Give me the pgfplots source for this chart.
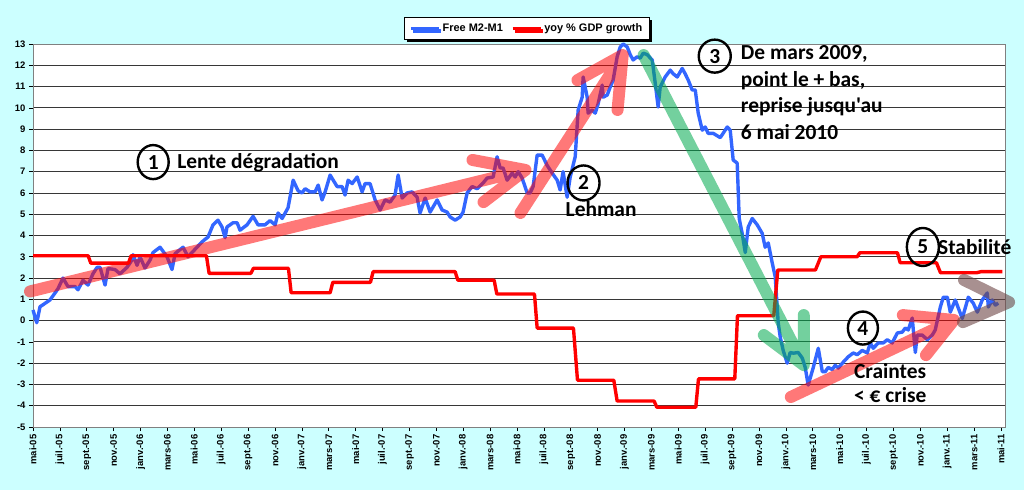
\documentclass[border=0pt]{standalone}
\usepackage{fontspec}
\setmainfont{Liberation Sans}
\newfontfamily\calib{Carlito}
\usepackage{pgfplots}
\usepackage{pgfplotstable}
\pgfplotsset{compat=1.18}
\usetikzlibrary{shadows}
\definecolor{bgcyan}{RGB}{204,255,255}
\definecolor{mblue}{RGB}{51,102,255}
\definecolor{gridc}{RGB}{55,55,55}
\definecolor{arrred}{RGB}{255,0,0}
\definecolor{arrgreen}{RGB}{0,170,80}
\definecolor{arrgray}{RGB}{110,70,70}

\pgfplotstableread{
m v
0 0.5
0.28 -0.1
0.52 0.65
1.26 0.97
1.64 1.3
1.86 1.5
2.23 2.0
2.60 1.6
3.13 1.6
3.35 1.45
3.72 1.9
4.09 1.67
4.46 2.2
4.76 2.5
4.99 2.5
5.36 1.67
5.58 2.45
6.10 2.4
6.47 2.2
6.99 2.5
7.37 2.85
7.44 3.1
7.74 2.6
7.96 3.0
8.33 2.47
8.71 2.85
8.93 3.2
9.45 3.45
9.97 3.0
10.34 2.4
10.57 3.15
11.16 3.45
11.53 3.0
12.20 3.45
12.57 3.7
13.02 3.93
13.39 4.5
13.76 4.72
14.06 4.4
14.29 3.9
14.43 4.4
14.88 4.6
15.18 4.6
15.40 4.25
15.92 4.5
16.37 4.9
16.74 4.5
17.26 4.5
17.63 4.7
18.01 4.5
18.23 5.06
18.53 4.8
18.97 5.3
19.35 6.6
19.72 6.1
20.01 6.0
20.24 6.2
20.61 6.05
20.98 6.05
21.21 6.37
21.50 5.67
21.73 6.05
22.10 6.84
22.62 6.3
22.99 6.3
23.21 5.9
23.44 6.6
23.74 6.44
24.11 6.75
24.48 6.05
24.70 6.44
25.07 6.44
25.45 5.67
25.82 5.2
26.19 5.67
26.56 5.57
26.93 5.9
27.16 6.84
27.46 5.76
27.83 6.0
28.20 6.05
28.57 5.8
28.79 5.06
29.17 5.76
29.54 5.1
30.06 5.67
30.43 5.2
30.80 5.1
31.03 4.87
31.40 4.72
31.77 4.87
31.99 5.1
32.29 6.0
32.66 6.3
33.04 6.2
33.48 6.47
33.78 6.7
34.23 6.75
34.52 7.7
34.75 7.17
34.97 7.17
35.27 6.6
35.64 6.93
35.86 6.75
36.09 7.0
36.38 6.7
36.76 6.0
36.98 6.0
37.20 6.3
37.50 7.78
37.87 7.78
38.24 7.3
38.62 6.93
38.99 6.6
39.21 6.14
39.43 7.0
39.73 5.8
39.96 6.75
40.33 7.7
40.55 9.9
40.85 10.5
40.92 11.45
41.22 10.5
41.29 9.75
41.59 9.9
41.82 9.75
42.04 10.2
42.34 11.07
42.41 10.5
42.71 10.6
42.93 10.97
43.15 11.3
43.45 12.4
43.68 12.86
43.90 13.0
44.20 12.86
44.42 12.5
44.64 12.25
44.94 12.4
45.16 12.33
45.39 12.57
45.68 12.5
46.06 12.25
46.28 11.17
46.50 10.04
46.65 10.97
47.02 11.45
47.40 11.77
47.62 11.6
47.92 11.45
48.29 11.85
48.51 11.6
48.74 11.3
49.03 10.84
49.26 10.84
49.48 9.75
49.78 8.95
50.00 9.1
50.22 8.8
50.60 8.8
51.12 8.6
51.64 9.1
51.86 8.95
52.08 7.55
52.38 7.4
52.53 4.8
52.75 4.1
52.98 3.2
53.20 4.4
53.50 4.8
53.87 4.5
54.24 4.1
54.46 3.45
54.69 3.65
54.99 2.7
55.21 2.05
55.43 -0.1
55.58 -0.77
55.80 -1.4
56.10 -2.0
56.32 -1.5
56.55 -1.53
56.92 -1.5
57.22 -1.76
57.44 -2.2
57.66 -3.03
58.04 -2.2
58.41 -1.3
58.71 -2.4
58.93 -2.4
59.15 -2.2
59.45 -2.3
59.67 -2.1
59.90 -2.23
60.27 -1.95
60.64 -1.7
61.01 -1.52
61.31 -1.6
61.68 -1.4
62.05 -1.52
62.28 -1.05
62.50 -1.3
62.87 -1.05
63.24 -1.05
63.54 -0.9
63.91 -1.05
64.29 -0.58
64.66 -0.54
64.88 -0.35
65.10 -0.44
65.40 0.12
65.63 -1.5
65.77 -0.68
66.15 -0.68
66.52 -0.9
66.89 -0.68
67.11 -0.44
67.49 0.64
67.71 1.1
68.01 1.1
68.23 0.4
68.60 0.97
69.12 0.1
69.57 1.1
69.94 0.82
70.24 0.4
70.61 0.97
70.98 1.3
71.06 0.64
71.35 0.97
71.58 0.73
71.80 0.82
}\bluedata

\pgfplotstableread{
m v
0 3.05
4.1 3.05
4.3 2.7
7.1 2.7
7.3 3.05
12.9 3.05
13.1 2.22
16.2 2.22
16.4 2.46
19.0 2.46
19.2 1.31
22.1 1.31
22.3 1.8
25.1 1.8
25.3 2.3
31.4 2.3
31.6 1.9
34.3 1.9
34.5 1.25
37.3 1.25
37.5 -0.35
40.2 -0.35
40.5 -2.8
43.2 -2.8
43.45 -3.78
46.2 -3.78
46.4 -4.07
49.3 -4.07
49.5 -2.74
52.2 -2.74
52.4 0.23
55.1 0.23
55.4 2.38
58.2 2.38
58.6 3.0
61.3 3.0
61.5 3.19
64.3 3.19
64.5 2.72
67.2 2.72
67.5 2.25
70.2 2.25
70.5 2.3
72.1 2.3
}\reddata

\begin{document}
\begin{tikzpicture}
\path[use as bounding box, fill=bgcyan] (0,0) rectangle (1024bp,-490bp);
\begin{axis}[
  at={(33bp,-427bp)}, anchor=south west,
  width=972bp, height=383bp, scale only axis,
  xmin=0, xmax=72.3, ymin=-5, ymax=13,
  clip=false,
  axis background/.style={fill=white},
  axis line style={draw=gray, line width=0.8pt},
  ytick={-5,-4,...,13},
  xtick={0,2,...,72},
  xticklabels={mai-05,juil.-05,sept.-05,nov.-05,janv.-06,mars-06,mai-06,juil.-06,sept.-06,nov.-06,janv.-07,mars-07,mai-07,juil.-07,sept.-07,nov.-07,janv.-08,mars-08,mai-08,juil.-08,sept.-08,nov.-08,janv.-09,mars-09,mai-09,juil.-09,sept.-09,nov.-09,janv.-10,mars-10,mai-10,juil.-10,sept.-10,nov.-10,janv.-11,mars-11,mai-11},
  tick align=outside, xtick pos=bottom, ytick pos=left,
  major tick length=4bp,
  tick style={black, line width=0.6pt},
  ymajorgrids, major grid style={gridc, line width=0.8pt},
  /pgf/number format/assume math mode=true,
  yticklabel style={font=\bfseries\fontsize{9.5}{10}\selectfont},
  xticklabel style={font=\bfseries\fontsize{9.5}{10}\selectfont, rotate=90, anchor=east},
  legend style={at={(0.508,1.0405)}, anchor=center, legend columns=2, draw=black, thick, fill=white,
    font=\bfseries\fontsize{11}{12}\selectfont, inner xsep=5pt, inner ysep=4pt,
    drop shadow={shadow xshift=2.5pt, shadow yshift=-2.5pt, fill=black, opacity=1},
    /tikz/every even column/.append style={column sep=6pt}},
  legend image code/.code={\draw[#1] (0bp,0bp) -- (28bp,0bp);},
]
\addplot[mblue, line width=3.4pt, line join=round] table[x=m, y=v] {\bluedata};
\addlegendentry{Free M2-M1}
\addplot[red, line width=3.4pt, line join=round] table[x=m, y=v] {\reddata};
\addlegendentry{yoy \% GDP growth}

% translucent arrows
\draw[arrred, opacity=0.53, line width=12bp, line cap=round, line join=round]
  (axis cs:-0.22,1.37) -- (axis cs:36.63,7.08)
  (axis cs:32.69,7.55) -- (axis cs:36.63,7.08) -- (axis cs:33.51,5.57);
\draw[arrred, opacity=0.53, line width=12bp, line cap=round, line join=round]
  (axis cs:36.26,5.06) -- (axis cs:43.86,12.48)
  (axis cs:40.5,11.3) -- (axis cs:43.86,12.48) -- (axis cs:43.48,9.9);
\draw[arrgreen, opacity=0.55, line width=12bp, line cap=round, line join=round]
  (axis cs:45.42,12.48) -- (axis cs:57.33,-2.09)
  (axis cs:54.36,-0.68) -- (axis cs:57.33,-2.09) -- (axis cs:57.33,0.26);
\draw[arrred, opacity=0.53, line width=12bp, line cap=round, line join=round]
  (axis cs:56.37,-3.59) -- (axis cs:68.5,0.03)
  (axis cs:64.7,0.26) -- (axis cs:68.5,0.03) -- (axis cs:66.42,-1.62);
\draw[arrgray, opacity=0.6, line width=12bp, line cap=round, line join=round]
  (axis cs:69.17,-0.07) -- (axis cs:72.6,0.87)
  (axis cs:69.25,1.91) -- (axis cs:72.6,0.87);

% circles and texts
\tikzset{circ/.style={black, line width=2.4bp}, ann/.style={font=\calib\bfseries\fontsize{21.5}{24}\selectfont, inner sep=0pt}}
\draw[circ] (axis cs:8.94,7.45) ellipse [x radius=15.5bp, y radius=17bp];
\node[ann] at (axis cs:8.94,7.45) {1};
\node[ann, anchor=base west] at (axis cs:10.72,7.17) {Lente dégradation};
\draw[circ] (axis cs:40.95,6.47) ellipse [x radius=16bp, y radius=17.5bp];
\node[ann] at (axis cs:40.95,6.47) {2};
\node[ann, anchor=base west] at (axis cs:39.61,4.87) {Lehman};
\draw[circ] (axis cs:50.71,12.43) ellipse [x radius=16bp, y radius=16.5bp];
\node[ann] at (axis cs:50.71,12.43) {3};
\node[ann, anchor=base west] at (axis cs:52.64,12.25) {De mars 2009,};
\node[ann, anchor=base west] at (axis cs:52.64,10.98) {point le + bas,};
\node[ann, anchor=base west] at (axis cs:52.64,9.76) {reprise jusqu'au};
\node[ann, anchor=base west] at (axis cs:52.64,8.53) {6 mai 2010};
\draw[circ] (axis cs:61.73,-0.35) ellipse [x radius=15bp, y radius=16.5bp];
\node[ann] at (axis cs:61.73,-0.35) {4};
\node[ann, anchor=base west] at (axis cs:61.06,-2.70) {Craintes};
\node[ann, anchor=base west] at (axis cs:61.06,-3.87) {< € crise};
\draw[circ] (axis cs:66.19,3.46) ellipse [x radius=16bp, y radius=19bp];
\node[ann] at (axis cs:66.19,3.46) {5};
\node[ann, anchor=base west] at (axis cs:67.31,3.13) {Stabilité};
\end{axis}
\end{tikzpicture}
\end{document}
